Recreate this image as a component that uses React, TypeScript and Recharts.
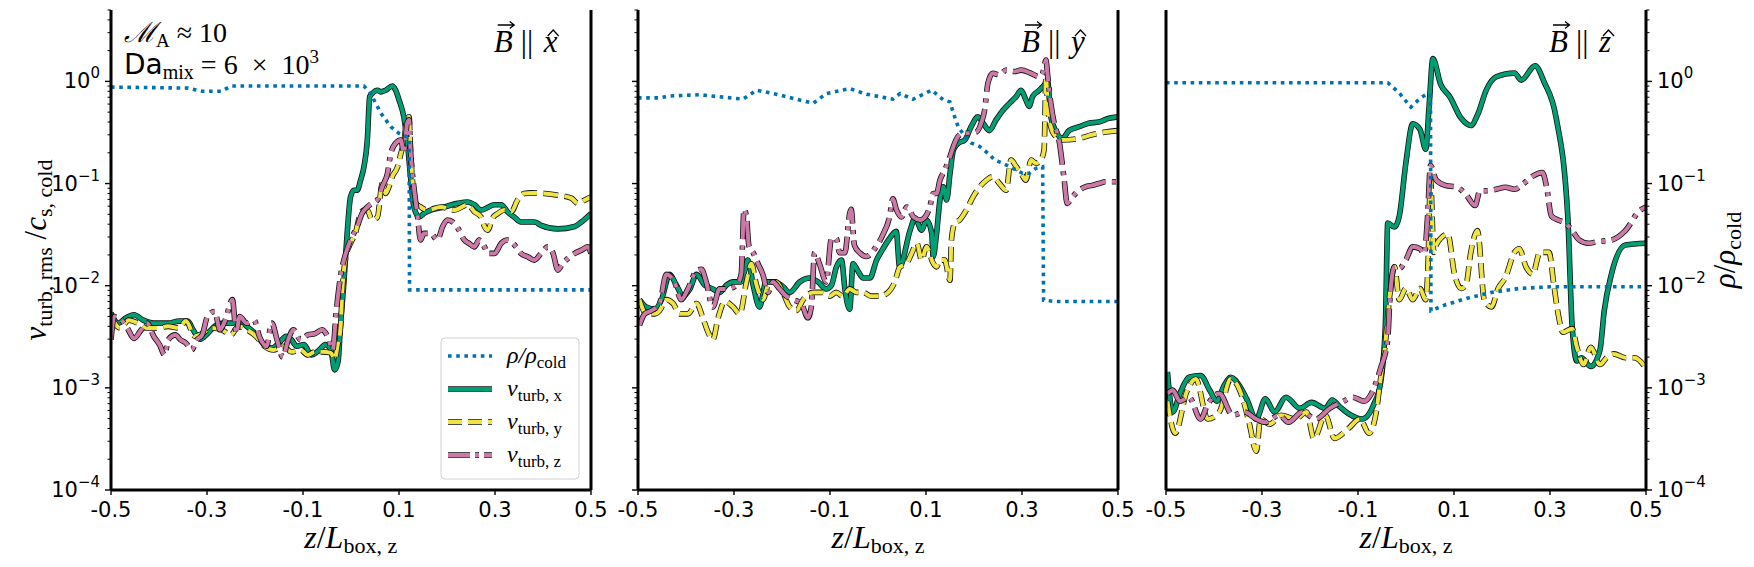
import { LineChart, Line, XAxis, YAxis } from "recharts";

type Pt = [number, number];

// ---- values ----
const Z_TICKS = [-0.5, -0.3, -0.1, 0.1, 0.3, 0.5];
const DECADES = [1e-4, 1e-3, 1e-2, 1e-1, 1];
const MINOR = DECADES.flatMap((d) => [2, 3, 4, 5, 6, 7, 8, 9].map((m) => m * d)).filter((v) => v < 5.001);
const Y_TICKS = [...DECADES, ...MINOR].sort((a, b) => a - b);

// panel 1: B || x
const P1_RHO: Pt[] = [
  [-0.5, 0.88], [-0.42, 0.87], [-0.34, 0.86], [-0.31, 0.8], [-0.27, 0.8], [-0.25, 0.9], [-0.1, 0.9],
  [0.027, 0.9], [0.041, 0.76], [0.062, 0.49], [0.083, 0.36], [0.1, 0.31], [0.114, 0.29], [0.121, 0.28],
  [0.122, 0.0091], [0.5, 0.0091],
];
const P1_VX: Pt[] = [
  [-0.5, 5.4e-3], [-0.485, 4.3e-3], [-0.47, 4.8e-3], [-0.452, 5.2e-3], [-0.433, 4.6e-3], [-0.411, 4.3e-3],
  [-0.381, 4.3e-3], [-0.358, 4.5e-3], [-0.34, 4.5e-3], [-0.329, 3.7e-3], [-0.314, 3.0e-3], [-0.299, 3.4e-3],
  [-0.284, 4.0e-3], [-0.265, 4.3e-3], [-0.247, 4.3e-3], [-0.232, 4.6e-3], [-0.217, 4.0e-3], [-0.194, 3.2e-3],
  [-0.18, 2.6e-3], [-0.165, 2.45e-3], [-0.15, 2.75e-3], [-0.135, 3.2e-3], [-0.124, 2.95e-3], [-0.113, 2.55e-3],
  [-0.098, 2.65e-3], [-0.083, 2.1e-3], [-0.068, 2.3e-3], [-0.053, 2.65e-3], [-0.042, 2.35e-3], [-0.034, 1.5e-3],
  [-0.027, 1.8e-3], [-0.022, 4.0e-3], [-0.015, 0.0105], [-0.008, 0.0325], [-0.001, 0.074], [0.006, 0.086],
  [0.013, 0.086], [0.02, 0.108], [0.027, 0.146], [0.034, 0.267], [0.039, 0.71], [0.044, 0.76], [0.055, 0.82],
  [0.062, 0.79], [0.072, 0.82], [0.086, 0.9], [0.093, 0.82], [0.1, 0.66], [0.11, 0.45], [0.117, 0.267],
  [0.124, 0.117], [0.131, 0.059], [0.142, 0.047], [0.152, 0.051], [0.166, 0.055], [0.194, 0.059],
  [0.222, 0.064], [0.243, 0.066], [0.257, 0.062], [0.271, 0.055], [0.299, 0.062], [0.313, 0.062],
  [0.326, 0.053], [0.34, 0.047], [0.354, 0.042], [0.382, 0.042], [0.396, 0.039], [0.431, 0.036],
  [0.466, 0.038], [0.48, 0.042], [0.5, 0.051],
];
const P1_VY: Pt[] = [
  [-0.5, 5.0e-3], [-0.481, 3.85e-3], [-0.463, 4.6e-3], [-0.444, 4.3e-3], [-0.426, 3.85e-3], [-0.403, 3.85e-3],
  [-0.381, 4.0e-3], [-0.358, 3.85e-3], [-0.344, 4.5e-3], [-0.325, 3.2e-3], [-0.31, 3.4e-3], [-0.291, 3.85e-3],
  [-0.269, 3.7e-3], [-0.25, 3.3e-3], [-0.235, 4.0e-3], [-0.217, 3.7e-3], [-0.198, 3.2e-3], [-0.18, 2.55e-3],
  [-0.161, 2.35e-3], [-0.142, 2.55e-3], [-0.124, 2.25e-3], [-0.105, 2.35e-3], [-0.09, 2.1e-3], [-0.075, 2.25e-3],
  [-0.06, 2.25e-3], [-0.042, 2.2e-3], [-0.034, 1.9e-3], [-0.028, 2.6e-3], [-0.022, 3.8e-3], [-0.018, 9.1e-3],
  [-0.011, 0.019], [-0.001, 0.026], [0.009, 0.0325], [0.02, 0.051], [0.027, 0.055], [0.034, 0.055],
  [0.044, 0.044], [0.055, 0.047], [0.065, 0.1], [0.072, 0.08], [0.079, 0.093], [0.086, 0.117], [0.097, 0.146],
  [0.104, 0.198], [0.111, 0.267], [0.116, 0.42], [0.121, 0.45], [0.124, 0.213], [0.13, 0.086], [0.135, 0.064],
  [0.145, 0.059], [0.159, 0.055], [0.187, 0.059], [0.215, 0.055], [0.243, 0.062], [0.257, 0.053],
  [0.271, 0.047], [0.278, 0.038], [0.285, 0.035], [0.295, 0.046], [0.306, 0.051], [0.32, 0.055],
  [0.334, 0.053], [0.347, 0.069], [0.361, 0.08], [0.375, 0.081], [0.403, 0.08], [0.431, 0.077],
  [0.459, 0.072], [0.473, 0.064], [0.487, 0.069], [0.5, 0.074],
];
const P1_VZ: Pt[] = [
  [-0.5, 2.95e-3], [-0.493, 5.0e-3], [-0.478, 4.6e-3], [-0.466, 3.85e-3], [-0.452, 3.05e-3], [-0.437, 3.7e-3],
  [-0.425, 4.3e-3], [-0.411, 3.2e-3], [-0.399, 2.65e-3], [-0.388, 2.1e-3], [-0.381, 2.95e-3], [-0.366, 3.3e-3],
  [-0.355, 2.95e-3], [-0.344, 2.75e-3], [-0.332, 2.35e-3], [-0.321, 2.95e-3], [-0.31, 3.3e-3], [-0.299, 5.0e-3],
  [-0.284, 5.6e-3], [-0.273, 3.7e-3], [-0.262, 4.6e-3], [-0.247, 7.3e-3], [-0.239, 3.4e-3], [-0.232, 5.0e-3],
  [-0.217, 4.3e-3], [-0.202, 4.6e-3], [-0.191, 3.2e-3], [-0.176, 2.55e-3], [-0.165, 4.3e-3], [-0.154, 2.95e-3],
  [-0.142, 2.0e-3], [-0.131, 2.95e-3], [-0.12, 3.7e-3], [-0.105, 2.95e-3], [-0.09, 3.3e-3], [-0.075, 3.4e-3],
  [-0.06, 3.7e-3], [-0.049, 3.2e-3], [-0.038, 2.35e-3], [-0.031, 5.4e-3], [-0.022, 0.0122], [-0.011, 0.0207],
  [-0.001, 0.028], [0.013, 0.038], [0.023, 0.051], [0.034, 0.059], [0.044, 0.064], [0.055, 0.069],
  [0.065, 0.093], [0.076, 0.126], [0.083, 0.198], [0.093, 0.248], [0.104, 0.267], [0.11, 0.198], [0.117, 0.39],
  [0.121, 0.42], [0.124, 0.213], [0.131, 0.093], [0.138, 0.051], [0.145, 0.028], [0.152, 0.0325],
  [0.166, 0.0325], [0.18, 0.028], [0.191, 0.038], [0.201, 0.044], [0.215, 0.041], [0.225, 0.035],
  [0.236, 0.028], [0.246, 0.026], [0.257, 0.024], [0.267, 0.028], [0.278, 0.024], [0.285, 0.0207],
  [0.299, 0.0207], [0.313, 0.026], [0.326, 0.028], [0.344, 0.024], [0.354, 0.0207], [0.368, 0.0192],
  [0.382, 0.0178], [0.396, 0.0207], [0.41, 0.024], [0.421, 0.0207], [0.431, 0.0142], [0.441, 0.0166],
  [0.452, 0.0185], [0.466, 0.0207], [0.48, 0.0223], [0.494, 0.024], [0.5, 0.0207],
];

// panel 2: B || y
const P2_RHO: Pt[] = [
  [-0.5, 0.69], [-0.455, 0.69], [-0.434, 0.72], [-0.372, 0.74], [-0.281, 0.67], [-0.253, 0.82], [-0.212, 0.75],
  [-0.135, 0.61], [-0.108, 0.76], [-0.059, 0.85], [-0.024, 0.75], [0.031, 0.67], [0.046, 0.76], [0.073, 0.67],
  [0.112, 0.82], [0.136, 0.66], [0.15, 0.63], [0.157, 0.49], [0.167, 0.36], [0.181, 0.29], [0.194, 0.25],
  [0.212, 0.23], [0.229, 0.198], [0.243, 0.17], [0.26, 0.158], [0.281, 0.141], [0.301, 0.126], [0.315, 0.126],
  [0.329, 0.141], [0.343, 0.146], [0.345, 0.0072], [0.37, 0.007], [0.5, 0.007],
];
const P2_VX: Pt[] = [
  [-0.497, 7.3e-3], [-0.483, 6.2e-3], [-0.465, 5.9e-3], [-0.451, 7.3e-3], [-0.434, 0.0129], [-0.42, 0.0101],
  [-0.406, 7.9e-3], [-0.392, 9.3e-3], [-0.378, 0.0129], [-0.361, 0.0101], [-0.344, 9.3e-3], [-0.33, 8.6e-3],
  [-0.316, 0.0101], [-0.302, 0.0109], [-0.285, 0.0109], [-0.271, 0.0178], [-0.26, 0.0101], [-0.247, 6.2e-3],
  [-0.233, 0.0109], [-0.219, 0.0109], [-0.201, 0.0101], [-0.184, 8.6e-3], [-0.163, 0.0109], [-0.142, 0.0119],
  [-0.125, 0.0109], [-0.108, 9.3e-3], [-0.097, 0.0101], [-0.087, 0.0151], [-0.076, 0.0178], [-0.069, 9.3e-3],
  [-0.059, 5.9e-3], [-0.052, 0.0164], [-0.042, 0.014], [-0.031, 0.0119], [-0.017, 0.0119], [-0.003, 0.0178],
  [0.01, 0.0228], [0.024, 0.029], [0.038, 0.034], [0.045, 0.0153], [0.067, 0.035], [0.077, 0.046],
  [0.091, 0.035], [0.101, 0.044], [0.112, 0.0325], [0.115, 0.0192], [0.122, 0.0325], [0.129, 0.069],
  [0.136, 0.093], [0.143, 0.069], [0.15, 0.126], [0.157, 0.213], [0.167, 0.248], [0.181, 0.267], [0.194, 0.36],
  [0.208, 0.45], [0.219, 0.39], [0.232, 0.33], [0.246, 0.42], [0.26, 0.52], [0.274, 0.61], [0.288, 0.71],
  [0.298, 0.82], [0.308, 0.66], [0.315, 0.57], [0.322, 0.71], [0.336, 0.82], [0.346, 0.92], [0.353, 1.03],
  [0.36, 0.45], [0.37, 0.33], [0.384, 0.277], [0.398, 0.33], [0.419, 0.36], [0.439, 0.39], [0.46, 0.4],
  [0.481, 0.435], [0.5, 0.45],
];
const P2_VY: Pt[] = [
  [-0.497, 7.3e-3], [-0.483, 5.3e-3], [-0.465, 5.3e-3], [-0.455, 5.7e-3], [-0.441, 7.3e-3], [-0.427, 6.7e-3],
  [-0.413, 5.3e-3], [-0.396, 5.3e-3], [-0.378, 6.7e-3], [-0.365, 4.85e-3], [-0.354, 3.5e-3], [-0.344, 2.97e-3],
  [-0.333, 4.85e-3], [-0.319, 7.0e-3], [-0.302, 6.2e-3], [-0.288, 5.3e-3], [-0.274, 0.0109], [-0.264, 0.0164],
  [-0.253, 0.0101], [-0.24, 7.3e-3], [-0.226, 0.0109], [-0.212, 0.0109], [-0.198, 8.6e-3], [-0.184, 6.2e-3],
  [-0.17, 5.7e-3], [-0.156, 7.3e-3], [-0.135, 8.6e-3], [-0.115, 8.6e-3], [-0.101, 7.9e-3], [-0.087, 8.6e-3],
  [-0.073, 7.9e-3], [-0.059, 9.3e-3], [-0.045, 8.6e-3], [-0.031, 8.6e-3], [-0.014, 7.9e-3], [0.003, 7.9e-3],
  [0.021, 8.6e-3], [0.035, 0.0109], [0.045, 0.0151], [0.06, 0.0166], [0.07, 0.0207], [0.081, 0.026],
  [0.091, 0.0178], [0.101, 0.024], [0.115, 0.0166], [0.122, 0.0153], [0.129, 0.0178], [0.139, 0.0178],
  [0.15, 0.0113], [0.153, 0.028], [0.16, 0.041], [0.17, 0.044], [0.184, 0.055], [0.198, 0.074], [0.212, 0.093],
  [0.226, 0.108], [0.239, 0.117], [0.253, 0.1], [0.267, 0.086], [0.277, 0.17], [0.288, 0.146], [0.298, 0.126],
  [0.308, 0.108], [0.319, 0.17], [0.329, 0.158], [0.339, 0.17], [0.346, 0.213], [0.35, 1.11], [0.353, 0.66],
  [0.36, 0.36], [0.37, 0.29], [0.384, 0.267], [0.419, 0.277], [0.446, 0.3], [0.474, 0.32], [0.5, 0.33],
];
const P2_VZ: Pt[] = [
  [-0.497, 4.1e-3], [-0.486, 5.3e-3], [-0.472, 5.7e-3], [-0.455, 6.7e-3], [-0.441, 0.0129], [-0.424, 0.0109],
  [-0.41, 7.3e-3], [-0.396, 9.3e-3], [-0.378, 0.014], [-0.368, 0.0145], [-0.358, 0.0109], [-0.344, 6.2e-3],
  [-0.33, 9.3e-3], [-0.313, 9.3e-3], [-0.295, 0.0101], [-0.285, 0.0129], [-0.279, 0.056], [-0.274, 0.047],
  [-0.269, 0.0247], [-0.26, 0.021], [-0.25, 0.0164], [-0.24, 0.0129], [-0.229, 8.6e-3], [-0.219, 0.0109],
  [-0.205, 9.3e-3], [-0.191, 7.9e-3], [-0.177, 7.3e-3], [-0.16, 6.7e-3], [-0.146, 4.85e-3], [-0.139, 6.2e-3],
  [-0.132, 0.021], [-0.122, 0.0164], [-0.108, 0.0109], [-0.097, 0.029], [-0.087, 0.029], [-0.08, 0.021],
  [-0.069, 0.021], [-0.059, 0.051], [-0.056, 0.056], [-0.049, 0.0247], [-0.038, 0.021], [-0.024, 0.0193],
  [-0.007, 0.023], [0.01, 0.0315], [0.024, 0.047], [0.031, 0.071], [0.038, 0.056], [0.049, 0.047],
  [0.06, 0.059], [0.074, 0.047], [0.088, 0.044], [0.098, 0.047], [0.108, 0.059], [0.115, 0.08], [0.122, 0.08],
  [0.129, 0.108], [0.139, 0.135], [0.15, 0.183], [0.157, 0.23], [0.167, 0.29], [0.177, 0.31], [0.191, 0.31],
  [0.205, 0.32], [0.215, 0.39], [0.222, 0.52], [0.229, 0.96], [0.239, 1.2], [0.253, 1.16], [0.267, 1.29],
  [0.284, 1.25], [0.298, 1.29], [0.319, 1.2], [0.336, 1.11], [0.343, 1.2], [0.35, 1.62], [0.353, 1.2],
  [0.36, 0.61], [0.367, 0.39], [0.377, 0.267], [0.388, 0.108], [0.394, 0.064], [0.405, 0.074], [0.419, 0.086],
  [0.432, 0.093], [0.446, 0.096], [0.46, 0.1], [0.474, 0.104], [0.5, 0.104],
];

// panel 3: B || z
const P3_RHO: Pt[] = [
  [-0.5, 0.97], [-0.038, 0.97], [-0.014, 0.77], [0.01, 0.56], [0.029, 0.68], [0.041, 0.74], [0.051, 0.74],
  [0.052, 5.7e-3], [0.082, 6.5e-3], [0.13, 7.6e-3], [0.178, 8.6e-3], [0.236, 9.4e-3], [0.3, 9.75e-3], [0.5, 9.75e-3],
];
const P3_VX: Pt[] = [
  [-0.497, 1.43e-3], [-0.486, 5.8e-4], [-0.471, 8.8e-4], [-0.452, 1.27e-3], [-0.428, 1.32e-3], [-0.409, 9.5e-4],
  [-0.394, 7.4e-4], [-0.38, 1.03e-3], [-0.365, 1.27e-3], [-0.346, 1.03e-3], [-0.332, 7.8e-4], [-0.312, 4.95e-4],
  [-0.293, 7.8e-4], [-0.274, 5.8e-4], [-0.25, 8.1e-4], [-0.221, 6.3e-4], [-0.197, 7.2e-4], [-0.168, 6.3e-4],
  [-0.154, 7.6e-4], [-0.139, 6.6e-4], [-0.12, 5.6e-4], [-0.091, 4.95e-4], [-0.067, 6.9e-4], [-0.053, 1.12e-3],
  [-0.043, 4.1e-3], [-0.038, 0.041], [-0.024, 0.0375], [-0.014, 0.048], [0.0, 0.163], [0.014, 0.385],
  [0.029, 0.34], [0.041, 0.217], [0.048, 0.56], [0.056, 1.67], [0.072, 0.94], [0.091, 0.71], [0.115, 0.435],
  [0.135, 0.37], [0.149, 0.47], [0.168, 0.84], [0.188, 1.11], [0.226, 1.21], [0.24, 1.03], [0.269, 1.42],
  [0.288, 0.98], [0.313, 0.435], [0.337, 0.048], [0.346, 4.1e-3], [0.356, 1.83e-3], [0.365, 1.97e-3],
  [0.385, 1.62e-3], [0.404, 2.34e-3], [0.413, 5.7e-3], [0.428, 0.013], [0.457, 0.025], [0.5, 0.026],
];
const P3_VY: Pt[] = [
  [-0.497, 7.4e-4], [-0.481, 3.6e-4], [-0.457, 9.1e-4], [-0.438, 1.22e-3], [-0.413, 4.95e-4], [-0.389, 5.8e-4],
  [-0.365, 1.22e-3], [-0.341, 8.1e-4], [-0.327, 4.6e-4], [-0.312, 2.4e-4], [-0.303, 4.95e-4], [-0.284, 4.4e-4],
  [-0.26, 5.4e-4], [-0.231, 4.95e-4], [-0.207, 5.8e-4], [-0.192, 3.2e-4], [-0.168, 5.4e-4], [-0.149, 3.2e-4],
  [-0.12, 4.0e-4], [-0.096, 4.95e-4], [-0.077, 3.6e-4], [-0.062, 5.8e-4], [-0.053, 1.22e-3], [-0.043, 2.75e-3],
  [-0.034, 7.96e-3], [-0.024, 0.0153], [-0.014, 7.3e-3], [0.0, 9.4e-3], [0.014, 7.3e-3], [0.029, 9.4e-3],
  [0.041, 7.3e-3], [0.046, 0.0166], [0.051, 0.108], [0.058, 0.0212], [0.063, 0.025], [0.072, 0.029],
  [0.087, 0.032], [0.101, 0.013], [0.115, 9.4e-3], [0.125, 0.0102], [0.135, 0.0212], [0.149, 0.0346],
  [0.163, 7.3e-3], [0.178, 6.2e-3], [0.192, 9.4e-3], [0.207, 0.012], [0.226, 0.0212], [0.236, 0.023],
  [0.25, 0.0153], [0.264, 0.013], [0.279, 0.0212], [0.298, 0.0212], [0.308, 0.0102], [0.317, 5.3e-3],
  [0.327, 3.5e-3], [0.346, 3.8e-3], [0.356, 2.5e-3], [0.37, 1.69e-3], [0.385, 2.5e-3], [0.404, 1.69e-3],
  [0.418, 1.97e-3], [0.433, 2.15e-3], [0.457, 1.97e-3], [0.476, 1.97e-3], [0.5, 1.55e-3],
];
const P3_VZ: Pt[] = [
  [-0.497, 8.8e-4], [-0.486, 9.5e-4], [-0.471, 7.4e-4], [-0.452, 8.1e-4], [-0.428, 4.95e-4], [-0.413, 6.9e-4],
  [-0.389, 8.8e-4], [-0.361, 5.4e-4], [-0.337, 5.8e-4], [-0.312, 4.95e-4], [-0.293, 4.6e-4], [-0.264, 5.4e-4],
  [-0.245, 4.6e-4], [-0.216, 5.8e-4], [-0.188, 4.95e-4], [-0.159, 6.3e-4], [-0.13, 7.4e-4], [-0.111, 8.1e-4],
  [-0.087, 7.4e-4], [-0.072, 8.8e-4], [-0.053, 1.55e-3], [-0.038, 3.0e-3], [-0.034, 6.8e-3], [-0.024, 0.0153],
  [-0.014, 0.0147], [0.0, 0.018], [0.014, 0.024], [0.029, 0.023], [0.038, 0.0204], [0.045, 0.048],
  [0.051, 0.15], [0.063, 0.108], [0.082, 0.096], [0.106, 0.092], [0.125, 0.078], [0.144, 0.061],
  [0.154, 0.085], [0.168, 0.085], [0.188, 0.088], [0.207, 0.092], [0.226, 0.088], [0.245, 0.1],
  [0.264, 0.118], [0.284, 0.128], [0.293, 0.092], [0.303, 0.048], [0.317, 0.044], [0.332, 0.041],
  [0.346, 0.0346], [0.361, 0.028], [0.38, 0.026], [0.399, 0.027], [0.428, 0.028], [0.457, 0.0346],
  [0.486, 0.054], [0.5, 0.059],
];

// ---- styling ----
const C_RHO = "#0072B2";
const C_X = "#009E73";
const C_Y = "#F0E442";
const C_Z = "#CC79A7";
const DASH_RHO = "3.6 4.6";
const DASH_Y = "14.8 6.4";
const DASH_Z = "25.6 6.4 4 6.4";
const SANS = "'DejaVu Sans', sans-serif";
const SERIF = "'Liberation Serif', 'DejaVu Serif', serif";
const SPINE = { stroke: "#000", strokeWidth: 3 };

const PANEL_LEFT = [110.7, 638, 1166];
const PW = 480;
const TOP = 10;
const BOTTOM = 490;

const rows = (pts: Pt[]) => pts.map(([z, v]) => ({ z, v }));
const isMajor = (v: number) => DECADES.some((d) => Math.abs(v / d - 1) < 1e-6);

function XTick(p: any) {
  return (
    <g>
      <line x1={p.x} x2={p.x} y1={p.y} y2={p.y + 5} stroke="#000" strokeWidth={1.4} />
      <text x={p.x} y={p.y + 27} textAnchor="middle" fontFamily={SANS} fontSize={21} fill="#000">
        {Number(p.payload.value).toFixed(1)}
      </text>
    </g>
  );
}

function YTick({ x, y, payload, side, labels }: any) {
  const v = payload.value as number;
  const major = isMajor(v);
  const dir = side === "left" ? -1 : 1;
  const exp = Math.round(Math.log10(v));
  return (
    <g>
      <line x1={x} x2={x + dir * (major ? 6 : 3.5)} y1={y} y2={y} stroke="#000" strokeWidth={major ? 1.4 : 1} />
      {labels && major && (
        <text x={x + dir * 11} y={y + 7} textAnchor={side === "left" ? "end" : "start"} fontFamily={SANS} fontSize={21} fill="#000">
          10<tspan dy={-10} fontSize={15}>{exp < 0 ? `\u2212${-exp}` : `${exp}`}</tspan>
        </text>
      )}
    </g>
  );
}

function outlined(id: string, pts: Pt[], color: string, dash?: string) {
  const data = rows(pts);
  const common = { data, dataKey: "v", yAxisId: "l", type: "monotoneX" as const, dot: false, activeDot: false, isAnimationActive: false, strokeLinejoin: "round" as const, strokeDasharray: dash };
  return [
    <Line key={id + "-edge"} {...common} stroke="#111" strokeWidth={5.6} />,
    <Line key={id} {...common} stroke={color} strokeWidth={4} />,
  ];
}

function Panel({ left, rho, vx, vy, vz, leftTicks, rightTicks }: {
  left: number; rho: Pt[]; vx: Pt[]; vy: Pt[]; vz: Pt[];
  leftTicks: "labels" | "marks" | "none"; rightTicks: "labels" | "none";
}) {
  return (
    <div style={{ position: "absolute", left: left - 100, top: 0 }}>
      <LineChart width={680} height={567} margin={{ top: TOP, right: 0, bottom: 0, left: 0 }}>
        <XAxis dataKey="z" type="number" domain={[-0.5, 0.5]} allowDataOverflow ticks={Z_TICKS} interval={0}
          tickSize={0} tickMargin={0} tickLine={false} tick={(p: any) => <XTick {...p} />} axisLine={SPINE} height={567 - BOTTOM} />
        <XAxis xAxisId="top" orientation="top" type="number" domain={[-0.5, 0.5]} allowDataOverflow height={0} tick={false} tickLine={false} axisLine={SPINE} />
        <YAxis yAxisId="l" orientation="left" scale="log" domain={[1e-4, 5]} allowDataOverflow width={100}
          ticks={Y_TICKS} interval={0} tickSize={0} tickMargin={0} tickLine={false} axisLine={SPINE}
          tick={leftTicks === "none" ? false : (p: any) => <YTick {...p} side="left" labels={leftTicks === "labels"} />} />
        <YAxis yAxisId="r" orientation="right" scale="log" domain={[1e-4, 5]} allowDataOverflow width={100}
          ticks={Y_TICKS} interval={0} tickSize={0} tickMargin={0} tickLine={false} axisLine={SPINE}
          tick={rightTicks === "none" ? false : (p: any) => <YTick {...p} side="right" labels />} />
        {outlined("vx", vx, C_X)}
        {outlined("vy", vy, C_Y, DASH_Y)}
        {outlined("vz", vz, C_Z, DASH_Z)}
        <Line data={rows(rho)} dataKey="v" yAxisId="l" type="linear" stroke={C_RHO} strokeWidth={3.6}
          strokeDasharray={DASH_RHO} dot={false} activeDot={false} isAnimationActive={false} />
      </LineChart>
    </div>
  );
}

function BLabel({ right, letter }: { right: number; letter: string }) {
  const bx = right - 97;
  const lx = right - 47;
  return (
    <g fill="#000">
      <text x={bx} y={52} fontFamily={SERIF} fontSize={31} fontStyle="italic">B</text>
      <path d={`M${bx + 4} 25 H${bx + 20} M${bx + 16} 21.5 L${bx + 20.5} 25 L${bx + 16} 28.5`} stroke="#000" strokeWidth={1.3} fill="none" />
      <text x={right - 70} y={52} fontFamily={SERIF} fontSize={31}>||</text>
      <text x={lx} y={52} fontFamily={SERIF} fontSize={31} fontStyle="italic">{letter}</text>
      <path d={`M${lx + 4} 36 L${lx + 9.5} 30 L${lx + 15} 36`} stroke="#000" strokeWidth={1.3} fill="none" />
    </g>
  );
}

function LegendRow({ y, label, sub, color, dash, edge }: any) {
  return (
    <g>
      {edge && <line x1={448} x2={492} y1={y} y2={y} stroke="#111" strokeWidth={5.6} strokeDasharray={dash} />}
      <line x1={448} x2={492} y1={y} y2={y} stroke={color} strokeWidth={edge ? 4 : 3.6} strokeDasharray={dash} />
      <text x={507} y={y + 7} fontFamily={SERIF} fontSize={24} fill="#000">
        <tspan fontStyle="italic">{label}</tspan>
        <tspan fontSize={17} dy={5}>{sub}</tspan>
      </text>
    </g>
  );
}

function Overlay() {
  return (
    <svg width={1754} height={567} style={{ position: "absolute", left: 0, top: 0, pointerEvents: "none" }}>
      {/* annotations in panel 1 */}
      <text x={124} y={42} fontFamily={SERIF} fontSize={28} fill="#000">
        <tspan fontStyle="italic">ℳ</tspan>
        <tspan fontSize={19} dy={5}>A</tspan>
        <tspan dy={-5}>{"\u00a0≈\u00a010"}</tspan>
      </text>
      <text x={124} y={74} fontFamily={SERIF} fontSize={28} fill="#000">
        <tspan fontFamily={SANS}>Da</tspan>
        <tspan fontSize={20} dy={5}>mix</tspan>
        <tspan dy={-5}>{"\u00a0=\u00a06\u00a0\u00a0×\u00a0\u00a010"}</tspan>
        <tspan fontSize={19} dy={-11}>3</tspan>
      </text>
      <BLabel right={PANEL_LEFT[0] + PW} letter="x" />
      <BLabel right={PANEL_LEFT[1] + PW} letter="y" />
      <BLabel right={PANEL_LEFT[2] + PW} letter="z" />

      {/* x labels */}
      {PANEL_LEFT.map((l) => (
        <text key={l} x={l + PW / 2} y={548} textAnchor="middle" fontFamily={SERIF} fontSize={32} fill="#000">
          <tspan fontStyle="italic">z</tspan>
          <tspan>/</tspan>
          <tspan fontStyle="italic">L</tspan>
          <tspan fontSize={22} dy={5}>box, z</tspan>
        </text>
      ))}

      {/* y labels */}
      <text transform="rotate(-90)" x={-250} y={46} textAnchor="middle" fontFamily={SERIF} fontSize={31} fill="#000">
        <tspan fontStyle="italic">v</tspan>
        <tspan fontSize={22} dy={6}>turb, rms</tspan>
        <tspan dy={-6}>{"\u00a0/"}</tspan>
        <tspan fontStyle="italic">c</tspan>
        <tspan fontSize={22} dy={6}>s, cold</tspan>
      </text>
      <text transform="rotate(-90)" x={-250} y={1735} textAnchor="middle" fontFamily={SERIF} fontSize={31} fill="#000">
        <tspan fontStyle="italic">ρ</tspan>
        <tspan>/</tspan>
        <tspan fontStyle="italic">ρ</tspan>
        <tspan fontSize={22} dy={6}>cold</tspan>
      </text>

      {/* legend */}
      <rect x={441} y={338} width={138} height={141} rx={4} fill="#fff" fillOpacity={0.8} stroke="#d0d0d0" strokeWidth={1} />
      <LegendRow y={356} label="ρ/ρ" sub="cold" color={C_RHO} dash="3.6 4.6" />
      <LegendRow y={389} label="v" sub="turb, x" color={C_X} edge />
      <LegendRow y={422} label="v" sub="turb, y" color={C_Y} dash="14 6" edge />
      <LegendRow y={455} label="v" sub="turb, z" color={C_Z} dash="22 5 4 5" edge />
    </svg>
  );
}

export default function App() {
  return (
    <div style={{ position: "absolute", left: 0, top: 0, width: 1754, height: 567, background: "#fff", overflow: "hidden" }}>
      <Panel left={PANEL_LEFT[0]} rho={P1_RHO} vx={P1_VX} vy={P1_VY} vz={P1_VZ} leftTicks="labels" rightTicks="none" />
      <Panel left={PANEL_LEFT[1]} rho={P2_RHO} vx={P2_VX} vy={P2_VY} vz={P2_VZ} leftTicks="marks" rightTicks="none" />
      <Panel left={PANEL_LEFT[2]} rho={P3_RHO} vx={P3_VX} vy={P3_VY} vz={P3_VZ} leftTicks="none" rightTicks="labels" />
      <Overlay />
    </div>
  );
}
